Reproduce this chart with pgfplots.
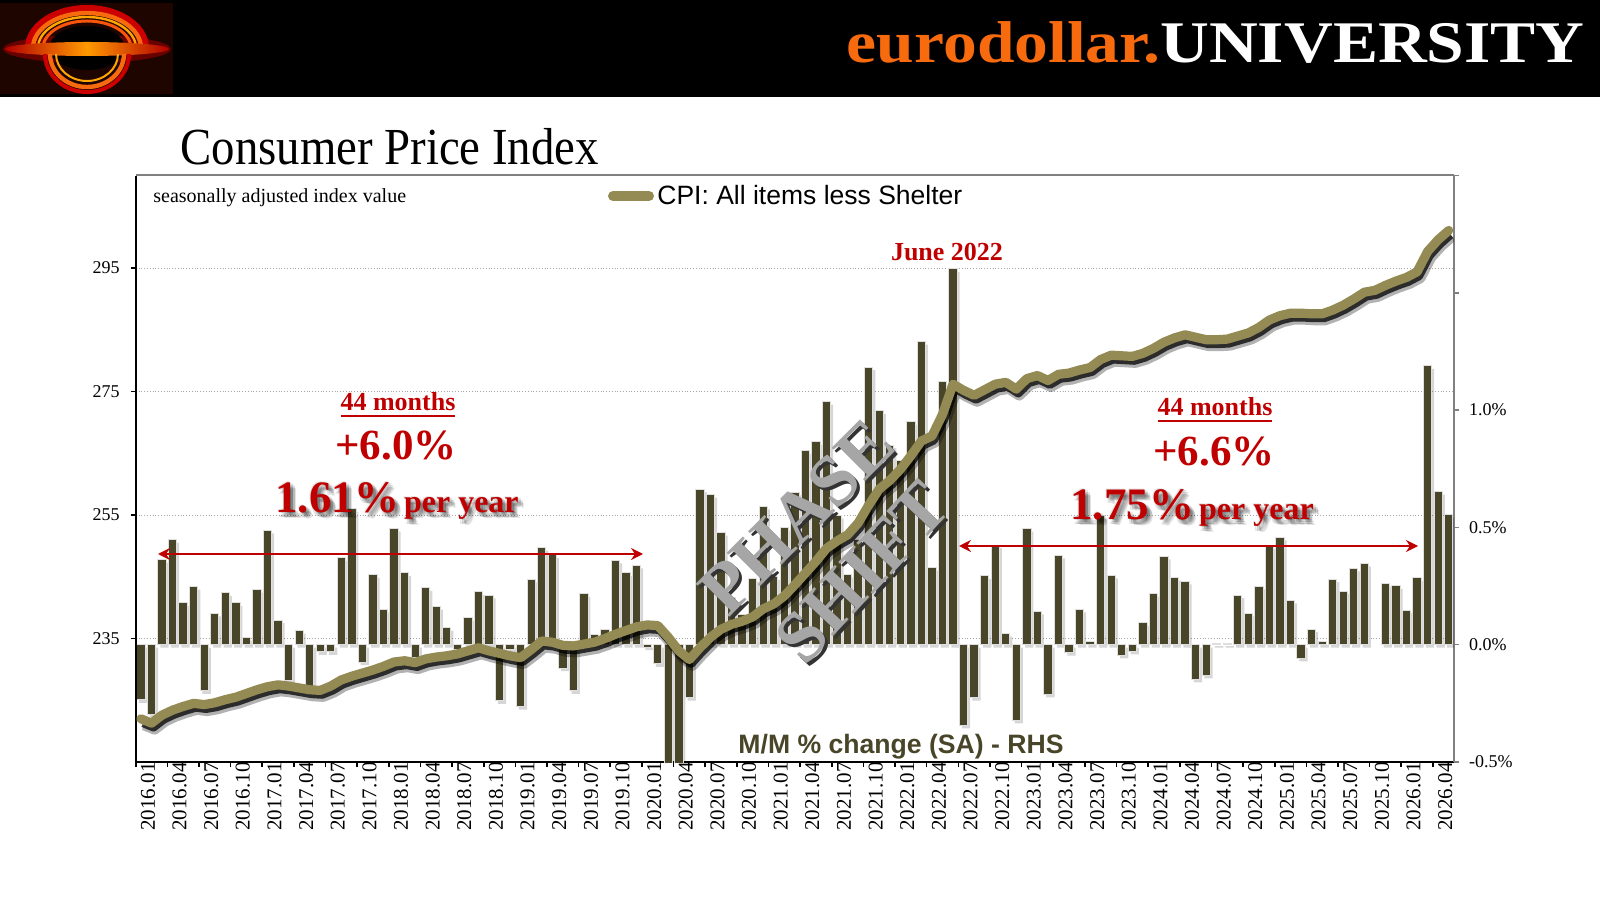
\documentclass[border=0pt]{standalone}
\usepackage{pgfplots}
\pgfplotsset{compat=1.18}
\usepackage{pgfplotstable}
\usepackage{fontspec}
\setmainfont{Liberation Serif}
\newfontfamily\sans{Liberation Sans}
\usetikzlibrary{arrows.meta}
\definecolor{barcol}{RGB}{73,69,41}
\definecolor{linecol}{RGB}{148,138,84}
\definecolor{redc}{RGB}{192,0,0}
\definecolor{orangec}{RGB}{247,106,14}
\definecolor{phasec}{RGB}{166,166,166}
\definecolor{logobg}{RGB}{30,5,0}
\definecolor{mmcol}{RGB}{73,69,41}

\pgfplotstableread{
m v
0 -0.235
1 -0.296
2 0.363
3 0.448
4 0.178
5 0.248
6 -0.197
7 0.133
8 0.221
9 0.178
10 0.030
11 0.235
12 0.487
13 0.105
14 -0.153
15 0.060
16 -0.180
17 -0.031
18 -0.031
19 0.371
20 0.580
21 -0.074
22 0.298
23 0.150
24 0.495
25 0.306
26 -0.054
27 0.242
28 0.162
29 0.073
30 -0.020
31 0.115
32 0.225
33 0.210
34 -0.239
35 -0.019
36 -0.264
37 0.278
38 0.413
39 0.383
40 -0.100
41 -0.197
42 0.217
43 0.043
44 0.064
45 0.359
46 0.306
47 0.338
48 -0.010
49 -0.082
50 -0.800
51 -1.300
52 -0.226
53 0.663
54 0.640
55 0.478
56 0.200
57 0.129
58 0.282
59 0.590
60 0.289
61 0.500
62 0.650
63 0.826
64 0.865
65 1.036
66 0.550
67 0.300
68 0.450
69 1.183
70 0.997
71 0.851
72 0.787
73 0.950
74 1.292
75 0.329
76 1.121
77 1.602
78 -0.344
79 -0.226
80 0.293
81 0.424
82 0.047
83 -0.323
84 0.495
85 0.142
86 -0.212
87 0.381
88 -0.034
89 0.151
90 0.014
91 0.550
92 0.296
93 -0.046
94 -0.028
95 0.094
96 0.218
97 0.376
98 0.286
99 0.270
100 -0.148
101 -0.131
102 0.007
103 0.007
104 0.211
105 0.134
106 0.249
107 0.420
108 0.457
109 0.189
110 -0.058
111 0.066
112 0.013
113 0.280
114 0.228
115 0.325
116 0.347
118 0.260
119 0.251
120 0.147
121 0.285
122 1.188
123 0.653
124 0.556
}\bars

\pgfplotstableread{
m v
0 222.0
1 221.3
2 222.6
3 223.4
4 224.0
5 224.5
6 224.3
7 224.6
8 225.1
9 225.5
10 226.1
11 226.7
12 227.2
13 227.5
14 227.3
15 227.0
16 226.7
17 226.6
18 227.3
19 228.3
20 228.9
21 229.4
22 229.9
23 230.5
24 231.2
25 231.4
26 231.1
27 231.7
28 232.0
29 232.2
30 232.5
31 233.0
32 233.5
33 233.0
34 232.6
35 232.2
36 231.9
37 233.2
38 234.6
39 234.4
40 233.9
41 233.8
42 234.1
43 234.4
44 235.0
45 235.7
46 236.3
47 236.9
48 237.2
49 237.1
50 235.2
51 233.0
52 231.6
53 233.5
54 235.2
55 236.5
56 237.3
57 237.8
58 238.5
59 239.8
60 240.6
61 241.9
62 243.7
63 245.6
64 247.5
65 249.6
66 250.8
67 251.8
68 253.7
69 256.6
70 259.2
71 260.6
72 262.4
73 264.6
74 267.0
75 267.8
76 271.3
77 276.2
78 275.2
79 274.4
80 275.3
81 276.2
82 276.5
83 275.4
84 277.1
85 277.6
86 276.8
87 277.8
88 278.0
89 278.5
90 278.9
91 280.2
92 280.9
93 280.8
94 280.7
95 281.2
96 282.0
97 283.0
98 283.7
99 284.2
100 283.8
101 283.4
102 283.4
103 283.5
104 284.0
105 284.5
106 285.4
107 286.6
108 287.3
109 287.7
110 287.7
111 287.6
112 287.6
113 288.2
114 289.0
115 290.0
116 291.1
117 291.4
118 292.2
119 292.9
120 293.5
121 294.4
122 297.7
123 299.6
124 301.1
}\cpi

\begin{document}
\begin{tikzpicture}[x=0.5pt,y=0.5pt]
\fill[white] (0,0) rectangle (1600,900);
\useasboundingbox (0,0) rectangle (1600,900);
% header
\fill[black] (0,803) rectangle (1600,900);
% logo
\fill[logobg] (0,806) rectangle (173,897);
\fill[red!70!black, opacity=0.5] (87,851) ellipse (84 and 14);
\draw[red!80!black, line width=3pt] (28,852) arc[start angle=180, end angle=0, x radius=59, y radius=40];
\draw[orangec, line width=2.2pt] (33,852) arc[start angle=180, end angle=0, x radius=54, y radius=35];
\draw[orange!70!yellow, line width=1.2pt] (38,852) arc[start angle=180, end angle=0, x radius=49, y radius=31];
\draw[orangec!80!red, line width=1.5pt] (43,852) arc[start angle=180, end angle=0, x radius=44, y radius=27];
\fill[black] (87,852) ellipse (38 and 22);
\shade[left color=red!70!black, right color=red!70!black, middle color=orange!80!yellow] (87,851) ellipse (82 and 7);
\draw[orangec, line width=2.2pt] (50,846) arc[start angle=180, end angle=360, x radius=37, y radius=33];
\draw[red!80!black, line width=2pt] (45,846) arc[start angle=180, end angle=360, x radius=42, y radius=38];
\draw[orange!70!yellow, line width=1pt] (56,846) arc[start angle=180, end angle=360, x radius=31, y radius=27];
% brand
\node[anchor=base east, inner sep=0pt, font=\fontsize{29.5pt}{30pt}\selectfont\bfseries] at (1585,837)
  {\scalebox{1.145}[1]{\textcolor{orangec}{eurodollar.}\textcolor{white}{UNIVERSITY}}};
% title
\node[anchor=base west, inner sep=0pt, font=\fontsize{26pt}{28pt}\selectfont] at (180,735)
  {\scalebox{0.9}[1]{Consumer Price Index}};

% ---------- bar axis (right scale) ----------
\begin{axis}[
  at={(67.85pt,69pt)}, anchor=south west, scale only axis,
  width=659.15pt, height=293.25pt,
  xmin=-0.5, xmax=124.5, ymin=-0.5, ymax=2,
  axis x line*=bottom, axis y line*=right,
  x axis line style={black, line width=0.8pt, -},
  y axis line style={gray, line width=1pt, -},
  tick align=outside, major tick length=2.5pt,
  xtick={-0.5,2.5,...,123.5}, xticklabels={},
  xtick style={black, line width=0.8pt},
  extra x ticks={0,3,...,123},
  extra x tick labels={2016.01,2016.04,2016.07,2016.10,2017.01,2017.04,2017.07,2017.10,2018.01,2018.04,2018.07,2018.10,2019.01,2019.04,2019.07,2019.10,2020.01,2020.04,2020.07,2020.10,2021.01,2021.04,2021.07,2021.10,2022.01,2022.04,2022.07,2022.10,2023.01,2023.04,2023.07,2023.10,2024.01,2024.04,2024.07,2024.10,2025.01,2025.04,2025.07,2025.10,2026.01,2026.04},
  extra x tick style={major tick length=0pt,
     xticklabel style={rotate=90, anchor=east, font=\fontsize{10.5pt}{11pt}\selectfont, inner sep=0pt, yshift=-3.5pt}},
  ytick={-0.5,0,0.5,1,1.5,2},
  yticklabels={-0.5\%,0.0\%,0.5\%,1.0\%,{},{}},
  ytick style={gray, line width=0.8pt},
  yticklabel style={font=\fontsize{9pt}{10pt}\selectfont, anchor=west, xshift=1.5pt},
  extra y ticks={0.026316,0.552632,1.078947,1.605263},
  extra y tick labels={},
  extra y tick style={grid=major, major tick length=0pt},
  grid style={gray!70, densely dotted, line width=0.45pt},
]
\addplot[ybar, bar width=0.79, bar shift=0pt, fill=black, draw=none, opacity=0.16, xshift=1.2pt, yshift=-1.5pt] table[x=m, y=v] {\bars};
\addplot[ybar, bar width=0.79, bar shift=0pt, fill=barcol, draw=gray!25, line width=0.5pt] table[x=m, y=v] {\bars};
\end{axis}

% ---------- line axis (left scale) ----------
\begin{axis}[
  at={(67.85pt,69pt)}, anchor=south west, scale only axis,
  width=659.15pt, height=293.25pt,
  xmin=-0.5, xmax=124.5, ymin=215, ymax=310,
  hide x axis,
  axis y line*=left,
  y axis line style={black, line width=0.8pt, -},
  tick align=outside, major tick length=2.5pt,
  ytick={235,255,275,295},
  ytick style={black, line width=0.8pt},
  yticklabel style={font=\fontsize{9pt}{10pt}\selectfont, xshift=-2pt},
  /pgf/number format/assume math mode=true,
]
\addplot[black, opacity=0.3, line width=5.5pt, line join=round, xshift=1.5pt, yshift=-3pt] table[x=m, y=v] {\cpi};
\addplot[black, opacity=0.75, line width=4pt, line join=round, xshift=1pt, yshift=-2.2pt] table[x=m, y=v] {\cpi};
\addplot[linecol, line width=4.6pt, line join=round, line cap=round] table[x=m, y=v] {\cpi};
\end{axis}

% frame top
\draw[gray, line width=1pt] (135.7,724.5) -- (1454,724.5);

% texts inside plot
\node[anchor=base west, inner sep=0pt, font=\fontsize{10pt}{11pt}\selectfont] at (153,697) {seasonally adjusted index value};
\draw[linecol, line width=5pt, line cap=round] (613,704) -- (649,704);
\node[anchor=base west, inner sep=0pt, font=\sans\fontsize{13.25pt}{14pt}\selectfont] at (657,695) {CPI: All items less Shelter};
\node[anchor=base, inner sep=0pt, font=\fontsize{13pt}{14pt}\selectfont\bfseries, text=redc] at (947,639) {June 2022};
\node[anchor=base, inner sep=0pt, font=\sans\fontsize{13.3pt}{14pt}\selectfont\bfseries, text=mmcol] at (901,147) {M/M \% change (SA) - RHS};

% left annotation
\node[anchor=base, inner sep=0pt, font=\fontsize{13pt}{14pt}\selectfont\bfseries, text=redc] at (398,489) {44 months};
\draw[redc, line width=1.3pt] (341,484) -- (455,484);
\node[anchor=base, inner sep=0pt, font=\fontsize{21.5pt}{22pt}\selectfont\bfseries, text=redc] at (396,440) {+6.0\%};
\foreach \dx/\dy in {1/-1,3/-1,5/-3,3/-5,1/-5,5/-5,3/-3,-1/1,6/-6}{
  \node[anchor=base, inner sep=0pt, font=\bfseries, text=black, opacity=0.1] at (397+\dx,387+\dy)
   {{\fontsize{22.5pt}{24pt}\selectfont 1.61\%} {\fontsize{16pt}{17pt}\selectfont per year}};
}
\node[anchor=base, inner sep=0pt, font=\bfseries, text=redc] at (397,387)
   {{\fontsize{22.5pt}{24pt}\selectfont 1.61\%} {\fontsize{16pt}{17pt}\selectfont per year}};
\draw[redc, line width=1pt, {Stealth[length=6pt,width=6pt,inset=2pt]}-{Stealth[length=6pt,width=6pt,inset=2pt]}] (158,346) -- (643,346);

% right annotation
\node[anchor=base, inner sep=0pt, font=\fontsize{13pt}{14pt}\selectfont\bfseries, text=redc] at (1215,484) {44 months};
\draw[redc, line width=1.3pt] (1158,479) -- (1272,479);
\node[anchor=base, inner sep=0pt, font=\fontsize{21.5pt}{22pt}\selectfont\bfseries, text=redc] at (1214,434) {+6.6\%};
\foreach \dx/\dy in {1/-1,3/-1,5/-3,3/-5,1/-5,5/-5,3/-3,-1/1,6/-6}{
  \node[anchor=base, inner sep=0pt, font=\bfseries, text=black, opacity=0.1] at (1192+\dx,380+\dy)
   {{\fontsize{22.5pt}{24pt}\selectfont 1.75\%} {\fontsize{16pt}{17pt}\selectfont per year}};
}
\node[anchor=base, inner sep=0pt, font=\bfseries, text=redc] at (1192,380)
   {{\fontsize{22.5pt}{24pt}\selectfont 1.75\%} {\fontsize{16pt}{17pt}\selectfont per year}};
\draw[redc, line width=1pt, {Stealth[length=6pt,width=6pt,inset=2pt]}-{Stealth[length=6pt,width=6pt,inset=2pt]}] (959,354) -- (1418,354);

% phase shift
\node[rotate=45, inner sep=0pt, font=\fontsize{36pt}{36pt}\selectfont\bfseries, text=black!80] at (800,380) {PHASE};
\node[rotate=45, inner sep=0pt, font=\fontsize{36pt}{36pt}\selectfont\bfseries, text=phasec] at (797,383) {PHASE};
\node[rotate=47, inner sep=0pt, font=\fontsize{36pt}{36pt}\selectfont\bfseries, text=black!80] at (865,325) {SHIFT};
\node[rotate=47, inner sep=0pt, font=\fontsize{36pt}{36pt}\selectfont\bfseries, text=phasec] at (862,328) {SHIFT};
\end{tikzpicture}
\end{document}
